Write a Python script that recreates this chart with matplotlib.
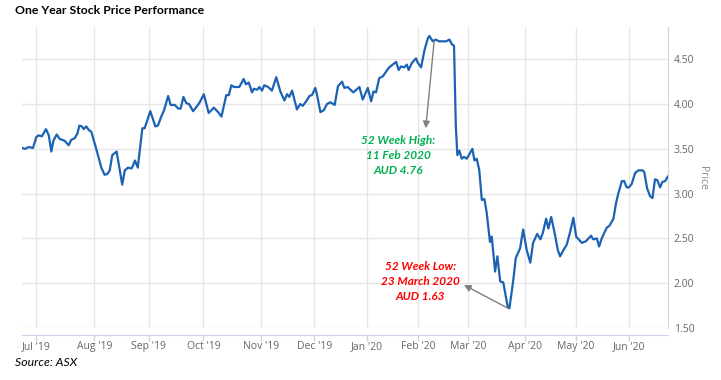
import matplotlib
matplotlib.use("Agg")
import matplotlib.pyplot as plt

# trading day index (0 = 24 Jun 2019) and closing price
day = [0, 1.3, 2.6, 4.3, 5.6, 6.5, 7.8, 9.4, 10.5, 11.5, 12.3, 13.6, 14.8, 16.7, 18.3,
       19.3, 20.7, 21.7, 22.5, 23.5, 24.2, 25.2, 26.2, 27.2, 29.1, 31.1, 32.4, 33.5,
       34.4, 35.4, 37.1, 38.3, 39.3, 40.3, 41.6, 42.9, 43.5, 44.3, 45.4, 47.2, 48.1,
       50.3, 52.3, 53.3, 54.6, 55.7, 57.3, 58.3, 59.9, 61.2, 62.2, 63.3, 64.4, 65.5,
       67.1, 69.0, 69.9, 71.3, 73.2, 75.2, 76.9, 78.2, 80.1, 81.1, 82.1, 83.1, 84.4,
       85.2, 86.9, 87.8, 88.9, 90.2, 90.9, 92.2, 93.1, 94.1, 95.0, 96.5, 98.0, 99.7,
       101.3, 102.9, 103.9, 104.8, 105.9, 106.8, 107.8, 109.1, 110.1, 111.4, 112.7,
       113.7, 115.0, 115.7, 117.0, 118.3, 119.6, 120.9, 122.6, 123.9, 125.5, 126.4,
       127.7, 129.9, 132.3, 133.6, 135.6, 136.9, 137.8, 138.8, 140.1, 141.5, 142.7,
       144.0, 146.7, 147.7, 148.6, 149.9, 150.9, 151.6, 152.9, 154.5, 155.2, 156.5,
       157.8, 159.1, 159.7, 161.1, 162.1, 163.6, 166.3, 167.6, 168.5, 169.4, 170.1,
       170.7, 171.5, 172.4, 173.3, 174.4, 175.4, 176.6, 177.4, 178.3, 179.3, 180.3,
       181.3, 182.2, 183.5, 184.2, 185.5, 186.4, 187.5, 188.7, 190.5, 191.1, 192.0,
       192.7, 193.6, 195.3, 196.5, 197.9, 199.3, 200.4, 202.0, 203.3, 204.3, 205.5,
       206.4, 207.5, 209.0, 210.1, 211.0, 212.3, 213.6, 214.9, 216.2, 217.3, 219.5,
       221.2, 223.1, 224.0, 225.4, 226.3, 227.3, 229.3, 230.3, 231.9, 232.9, 233.8,
       235.2, 236.1, 237.1, 238.0, 239.1, 240.4, 241.7, 243.3, 244.0, 245.1, 246.3,
       247.2, 248.2, 249.1, 250.2, 251.1, 252.2, 253.2]
price = [3.51, 3.50, 3.52, 3.51, 3.63, 3.65, 3.64, 3.72, 3.65, 3.47, 3.59, 3.66, 3.61,
         3.59, 3.54, 3.60, 3.62, 3.67, 3.76, 3.75, 3.72, 3.75, 3.71, 3.69, 3.50, 3.29,
         3.21, 3.22, 3.26, 3.43, 3.47, 3.27, 3.10, 3.26, 3.29, 3.28, 3.31, 3.37, 3.29,
         3.73, 3.73, 3.92, 3.75, 3.76, 3.86, 3.93, 4.09, 3.99, 3.99, 3.95, 3.95, 4.08,
         4.01, 4.00, 3.92, 3.99, 4.03, 4.11, 3.90, 3.96, 3.91, 3.86, 4.10, 4.10, 4.21,
         4.19, 4.19, 4.19, 4.28, 4.22, 4.24, 4.13, 4.17, 4.16, 4.19, 4.15, 4.21, 4.19,
         4.15, 4.30, 4.14, 4.04, 4.11, 4.08, 4.15, 4.05, 3.94, 4.00, 3.98, 4.03, 4.09,
         4.10, 4.18, 4.10, 3.91, 3.93, 4.00, 4.02, 3.99, 4.20, 4.25, 4.18, 4.19, 4.13,
         4.19, 4.05, 4.18, 4.03, 4.14, 4.13, 4.29, 4.31, 4.36, 4.41, 4.47, 4.38, 4.42,
         4.41, 4.44, 4.38, 4.46, 4.51, 4.46, 4.41, 4.60, 4.73, 4.76, 4.70, 4.72, 4.70,
         4.70, 4.72, 4.67, 4.65, 3.76, 3.43, 3.48, 3.39, 3.41, 3.39, 3.44, 3.50, 3.37,
         3.39, 3.26, 2.93, 2.94, 2.79, 2.46, 2.52, 2.13, 2.30, 2.02, 2.01, 1.73, 1.72,
         1.90, 2.05, 2.28, 2.39, 2.60, 2.37, 2.23, 2.45, 2.55, 2.49, 2.57, 2.72, 2.61,
         2.74, 2.54, 2.37, 2.30, 2.37, 2.43, 2.57, 2.73, 2.52, 2.45, 2.47, 2.53, 2.49,
         2.50, 2.41, 2.50, 2.62, 2.64, 2.72, 2.89, 3.00, 3.14, 3.14, 3.07, 3.07, 3.11,
         3.23, 3.26, 3.26, 3.24, 3.06, 2.97, 2.95, 3.16, 3.15, 3.07, 3.13, 3.14, 3.19]

month_pos = [5.4, 28.4, 49.7, 71.1, 93.7, 114.6, 135.3, 155.2, 175.0, 197.3, 217.1, 238.0]
month_labels = ["Jul '19", "Aug '19", "Sep '19", "Oct '19", "Nov '19", "Dec '19",
                "Jan '20", "Feb '20", "Mar '20", "Apr '20", "May '20", "Jun '20"]
price_ticks = [1.5, 2.0, 2.5, 3.0, 3.5, 4.0, 4.5]

high_text = "52 Week High:\n11 Feb 2020\nAUD 4.76"
low_text = "52 Week Low:\n23 March 2020\nAUD 1.63"

plt.rcParams['font.family'] = ['Open Sans', 'DejaVu Sans']

fig = plt.figure(figsize=(7.21, 3.80), dpi=100)
ax = fig.add_axes([22 / 721, 1 - 328 / 380, 646 / 721, 301 / 380])

ax.plot(day, price, color='#1c62b4', linewidth=1.6, zorder=3)

ax.set_xlim(0, 253.3)
ax.set_ylim(1.5, 4.86)

# axes styling
ax.yaxis.tick_right()
ax.yaxis.set_label_position('right')
ax.set_yticks(price_ticks)
ax.set_yticklabels(['%.2f' % v for v in price_ticks])
ax.set_xticks(month_pos)
ax.set_xticklabels(month_labels)
ax.grid(True, color='#e6e6e6', linewidth=1)
ax.set_axisbelow(True)

for s in ['top', 'left']:
    ax.spines[s].set_visible(False)
ax.spines['right'].set_color('#ccd6eb')
ax.spines['bottom'].set_color('#ccd6eb')
ax.spines['bottom'].set_position(('outward', 5))
ax.tick_params(axis='x', colors='#ccd6eb', length=4, width=1, labelcolor='#666666',
               labelsize=7.5, pad=0.5)
ax.tick_params(axis='y', length=0, labelcolor='#666666', labelsize=7.5, pad=4)
ax.set_ylabel('Price', color='#888888', fontsize=7.5, rotation=270, labelpad=10)

# annotations
arrow = dict(arrowstyle='-|>', color='#808080', lw=1, mutation_scale=10,
             shrinkA=0, shrinkB=0)
ax.annotate('', xy=(158.3, 3.73), xytext=(161.6, 4.70), arrowprops=arrow)
ax.annotate('', xy=(173.3, 1.98), xytext=(190.6, 1.72), arrowprops=arrow)
ax.text(147.5, 3.43, high_text, color='#00b050', fontsize=8.5, fontweight='bold',
        style='italic', ha='center', va='center', linespacing=1.45,
        family=['Lato', 'DejaVu Sans'])
ax.text(156.1, 2.02, low_text, color='#ff0000', fontsize=8.5, fontweight='bold',
        style='italic', ha='center', va='center', linespacing=1.45,
        family=['Lato', 'DejaVu Sans'])

fig.text(15 / 721, 1 - 11 / 380, 'One Year Stock Price Performance', fontsize=8.8,
         fontweight='bold', ha='left', va='center', family=['Lato', 'DejaVu Sans'])
fig.text(15 / 721, 1 - 362 / 380, 'Source: ASX', fontsize=8.8, style='italic',
         ha='left', va='center', family=['Lato', 'DejaVu Sans'])

fig.savefig('out.png', dpi=100)
